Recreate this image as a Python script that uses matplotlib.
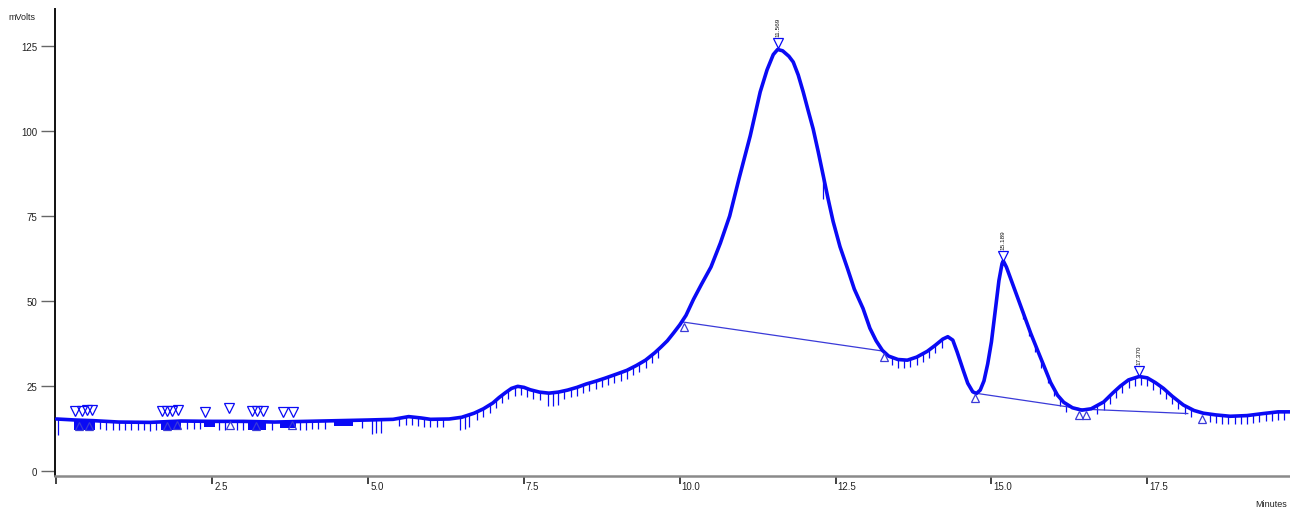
import numpy as np
import matplotlib
matplotlib.use("Agg")
import matplotlib.pyplot as plt
import matplotlib.transforms as mtransforms

plt.rcParams['font.family'] = ['Liberation Sans', 'DejaVu Sans']

# ---- trace (minutes, mVolts) ----
time_min = [0.00, 0.3, 0.6, 1.0, 1.5, 2.0, 2.5, 3.0, 3.5, 4.0, 4.5, 5.0, 5.4, 5.65, 5.85,
            6.0, 6.3, 6.5, 6.7, 6.85, 7.0, 7.1, 7.2, 7.3, 7.4, 7.5, 7.6, 7.75, 7.9, 8.05,
            8.2, 8.35, 8.5, 8.65, 8.8, 9.0, 9.15, 9.3, 9.45, 9.6, 9.7, 9.8, 9.9, 10.0,
            10.1, 10.22, 10.35, 10.5, 10.65, 10.8, 10.95, 11.13, 11.29, 11.40, 11.50,
            11.57, 11.65, 11.75, 11.82, 11.9, 11.98, 12.06, 12.14, 12.22, 12.30, 12.38,
            12.46, 12.57, 12.69, 12.8, 12.94, 13.05, 13.15, 13.25, 13.35, 13.5, 13.65,
            13.8, 13.97, 14.1, 14.22, 14.3, 14.38, 14.45, 14.55, 14.62, 14.7, 14.76,
            14.82, 14.88, 14.94, 15.0, 15.06, 15.12, 15.17, 15.19, 15.24, 15.32, 15.42,
            15.52, 15.63, 15.74, 15.84, 15.95, 16.06, 16.16, 16.3, 16.45, 16.6, 16.8,
            16.95, 17.07, 17.2, 17.37, 17.5, 17.63, 17.76, 17.9, 18.08, 18.25, 18.40,
            18.6, 18.83, 19.1, 19.36, 19.6, 19.8]
signal_mv = [15.3, 15.0, 14.8, 14.4, 14.3, 14.7, 14.6, 14.6, 14.4, 14.6, 14.8, 15.0, 15.2, 16.0, 15.6,
             15.2, 15.3, 15.8, 17.0, 18.3, 20.0, 21.6, 23.0, 24.3, 24.9, 24.6, 23.9, 23.2, 22.9, 23.2,
             23.8, 24.6, 25.6, 26.4, 27.3, 28.6, 29.6, 31.0, 32.6, 34.8, 36.5, 38.3, 40.6, 43.0,
             45.8, 50.5, 55.0, 60.0, 67.0, 75.0, 86.0, 98.6, 111.5, 118.0, 122.5,
             124.0, 123.6, 122.0, 120.3, 116.5, 111.5, 106.0, 100.6, 94.0, 87.0, 80.0,
             73.4, 66.0, 59.6, 53.5, 47.8, 42.0, 38.3, 35.5, 33.8, 32.8, 32.6,
             33.5, 35.2, 37.0, 38.8, 39.5, 38.5, 35.0, 29.5, 25.8, 23.3, 22.8,
             23.8, 26.5, 31.5, 38.0, 47.0, 56.0, 61.0, 61.8, 60.0, 56.0, 51.0,
             46.0, 40.5, 35.5, 31.0, 26.0, 22.3, 20.2, 18.6, 17.9, 18.3, 20.3,
             23.0, 25.0, 26.8, 27.8, 27.4, 26.0, 24.3, 22.0, 19.4, 17.8, 17.0,
             16.5, 16.1, 16.3, 16.9, 17.4, 17.4]

# ---- labelled peaks ----
peak_rt = [11.569, 15.189, 17.370]
peak_labels = ["11.569", "15.189", "17.370"]
peak_marker_mv = [125.9, 63.2, 29.4]

# ---- baselines drawn by the integrator ----
base1_t = [10.06, 13.25]
base1_v = [43.8, 35.3]
base2_t = [14.74, 16.47, 18.15]
base2_v = [22.9, 18.2, 16.9]

# ---- integration event markers ----
down_tri_t = [0.30, 0.41, 0.49, 0.57, 1.69, 1.77, 1.85, 1.95, 2.38, 2.77, 3.13, 3.22, 3.31, 3.63, 3.79]
down_tri_v = [17.6, 17.6, 17.8, 17.8, 17.6, 17.6, 17.6, 17.8, 17.4, 18.6, 17.6, 17.6, 17.6, 17.4, 17.4]
up_tri_t = [0.36, 0.52, 1.78, 1.93, 2.78, 3.20, 3.78, 10.06, 13.28, 14.74, 16.40, 16.52, 18.38]
up_tri_v = [13.2, 13.2, 13.2, 13.4, 13.6, 13.2, 13.4, 42.3, 33.4, 21.4, 16.6, 16.6, 15.2]

# dense tick blocks (start, end, lowest mV)
block_start = [0.28, 1.68, 3.08, 4.45, 2.36, 3.58]
block_end = [0.62, 2.00, 3.36, 4.75, 2.55, 3.85]
block_low = [12.0, 12.0, 12.0, 13.3, 12.8, 12.6]
block_top = [15.2, 14.8, 14.8, 14.9, 14.8, 14.6]

# short tick marks hanging below the trace (times, length in mV)
tick_t = [0.7, 0.8, 0.9, 1.0, 1.1, 1.2, 1.3, 1.4, 1.5, 1.6, 2.1, 2.2, 2.3, 2.6, 2.7, 2.9, 3.0,
          3.45, 3.9, 4.0, 4.1, 4.2, 4.3, 4.9, 5.5, 5.6, 5.7, 5.8, 5.9, 6.0, 6.1, 6.2,
          6.75, 6.85, 6.95, 7.05, 7.15, 7.25, 7.35, 7.45, 7.55, 7.65, 7.75, 8.15, 8.25, 8.35,
          8.45, 8.55, 8.65, 8.75, 8.85, 8.95, 9.05, 9.15, 9.25, 9.35, 9.45, 9.55, 9.65,
          13.4, 13.5, 13.6, 13.7, 13.8, 13.9, 14.0, 14.1, 14.2,
          15.5, 15.6, 15.7, 15.8, 15.9, 16.0, 16.1, 16.2, 16.7, 16.8, 16.9,
          17.0, 17.1, 17.2, 17.3, 17.4, 17.5, 17.6, 17.7, 17.8, 17.9, 18.0, 18.1, 18.2,
          18.5, 18.6, 18.7, 18.8, 18.9, 19.0, 19.1, 19.2, 19.3, 19.4, 19.5, 19.6, 19.7]
tick_len_mv = 2.4
long_tick_t = [0.03, 5.06, 5.13, 5.20, 6.47, 6.55, 6.62, 7.89, 7.97, 8.05, 12.30]
long_tick_len = [4.8, 4.0, 4.0, 4.0, 3.6, 3.6, 3.6, 3.8, 3.8, 3.8, 7.0]

x_ticks = [0, 2.5, 5.0, 7.5, 10.0, 12.5, 15.0, 17.5]
x_tick_labels = ["", "2.5", "5.0", "7.5", "10.0", "12.5", "15.0", "17.5"]
y_ticks = [0, 25, 50, 75, 100, 125]

BLUE = '#0a0af5'

fig = plt.figure(figsize=(12.9, 5.1), dpi=100)
ax = fig.add_axes([55 / 1290, 33 / 510, 1 - 55 / 1290, 467 / 510])
ax.set_xlim(-0.024, 19.79)
ax.set_ylim(-1.47, 135.9)

t_arr = np.array(time_min)
v_arr = np.array(signal_mv)

# blocks of dense ticks
for s, e, lo, hi in zip(block_start, block_end, block_low, block_top):
    ax.fill_between([s, e], [lo, lo], [hi, hi], color=BLUE, lw=0)

# short ticks
tt = np.array(tick_t)
top = np.interp(tt, t_arr, v_arr)
ax.vlines(tt, top - tick_len_mv, top, color=BLUE, lw=0.9)
lt = np.array(long_tick_t)
ltop = np.interp(lt, t_arr, v_arr)
ax.vlines(lt, ltop - np.array(long_tick_len), ltop, color=BLUE, lw=0.9)

# main trace
ax.plot(t_arr, v_arr, color=BLUE, lw=2.6, solid_joinstyle='round', solid_capstyle='round', zorder=3)

# baselines
ax.plot(base1_t, base1_v, color='#3a3ad8', lw=0.9, zorder=2)
ax.plot(base2_t, base2_v, color='#3a3ad8', lw=0.9, zorder=2)

# markers
ax.plot(down_tri_t, down_tri_v, ls='none', marker='v', ms=6.5, mfc='none', mec=BLUE, mew=0.9, zorder=4)
ax.plot(up_tri_t, up_tri_v, ls='none', marker='^', ms=6.0, mfc='none', mec='#3a3ad8', mew=0.9, zorder=4)
ax.plot(peak_rt, peak_marker_mv, ls='none', marker='v', ms=7, mfc='white', mec=BLUE, mew=0.9, zorder=5)

for rt, lab, mv in zip(peak_rt, peak_labels, peak_marker_mv):
    ax.annotate(lab, (rt, mv), xytext=(0, 5), textcoords='offset points', rotation=90,
                ha='center', va='bottom', fontsize=4.6, color='#111111')

# axes styling
for side in ('top', 'right'):
    ax.spines[side].set_visible(False)
ax.spines['left'].set_color('#111111')
ax.spines['left'].set_linewidth(1.4)
ax.spines['bottom'].set_color('#8a8a8a')
ax.spines['bottom'].set_linewidth(1.8)

ax.set_yticks(y_ticks)
ax.set_yticklabels([str(v) for v in y_ticks])
ax.tick_params(axis='y', direction='out', length=10, width=1.0, color='#666666',
               pad=3, labelsize=7, labelcolor='#222222')
ax.set_xticks(x_ticks)
ax.set_xticklabels([])
ax.tick_params(axis='x', direction='out', length=6, width=1.2, color='#222222')

trans = mtransforms.blended_transform_factory(ax.transData, ax.transAxes) + \
    mtransforms.ScaledTranslation(2 / 100, -5 / 100, fig.dpi_scale_trans)
for xv, lab in zip(x_ticks, x_tick_labels):
    ax.text(xv, 0, lab, transform=trans, ha='left', va='top', fontsize=7, color='#222222')

fig.text(8 / 1290, 1 - 17 / 510, "mVolts", ha='left', va='center', fontsize=6.5, color='#222222')
fig.text(1255 / 1290, 1 - 505 / 510, "Minutes", ha='left', va='center', fontsize=6.5, color='#222222')

fig.savefig("out.png", dpi=100)
